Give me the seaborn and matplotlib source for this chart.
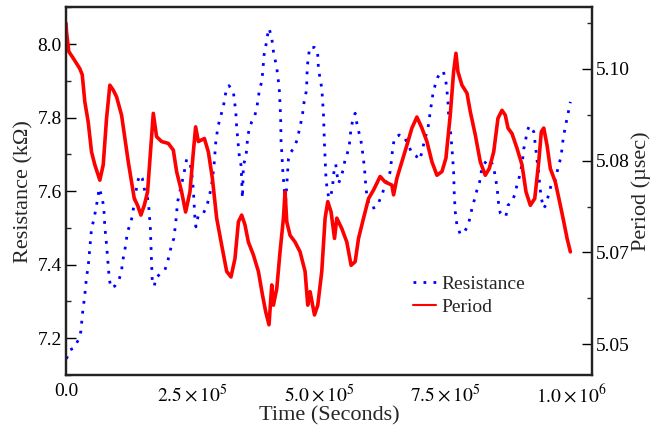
import numpy as np
import pandas as pd
import matplotlib
matplotlib.use('Agg')
import matplotlib.pyplot as plt
import seaborn as sns
from matplotlib.ticker import FixedLocator, MultipleLocator
from matplotlib.lines import Line2D

# Period trace (red), time in units of 1e3 s, period in usec
period_t_ks = [0.0, 1.0, 5.5, 14.3, 27.3, 32.1, 37.2, 43.9, 50.5, 57.0,
               66.9, 73.6, 80.2, 86.7, 93.4, 100.0, 109.9, 116.4, 123.1, 129.7,
               135.0, 141.5, 148.1, 154.8, 161.3, 167.9, 172.6, 179.1, 189.0, 202.3,
               212.2, 218.7, 228.6, 236.5, 245.1, 251.8, 256.3, 261.7, 273.6, 281.5,
               289.4, 297.9, 307.8, 317.7, 326.2, 334.1, 340.9, 347.4, 353.9, 360.6,
               370.5, 380.4, 388.4, 394.9, 401.4, 406.8, 410.1, 416.7, 423.2, 429.9,
               433.1, 436.5, 443.0, 452.9, 462.8, 472.7, 478.0, 482.6, 491.3, 497.8,
               505.7, 512.3, 517.6, 524.1, 530.9, 535.4, 545.3, 555.2, 563.7, 571.7,
               578.4, 588.3, 598.2, 608.1, 621.1, 631.0, 644.3, 647.7, 654.2, 664.1,
               674.0, 683.9, 693.8, 703.7, 713.6, 723.5, 733.4, 743.3, 751.2, 759.7,
               766.4, 771.0, 774.9, 782.9, 792.8, 799.3, 809.2, 819.1, 829.0, 836.9,
               845.6, 854.1, 862.0, 868.6, 873.9, 881.8, 891.7, 901.6, 909.5, 918.1,
               926.8, 934.7, 939.8, 944.6, 951.1, 957.6, 967.5, 977.4, 984.2, 990.7,
               997.2]
period_us = [5.1074, 5.1060, 5.1028, 5.1017, 5.1000, 5.0990, 5.0946, 5.0913, 5.0864, 5.0843,
             5.0818, 5.0843, 5.0919, 5.0973, 5.0965, 5.0954, 5.0924, 5.0886, 5.0848, 5.0815,
             5.0788, 5.0777, 5.0761, 5.0777, 5.0799, 5.0875, 5.0927, 5.0889, 5.0881, 5.0878,
             5.0867, 5.0832, 5.0799, 5.0766, 5.0799, 5.0864, 5.0905, 5.0881, 5.0886, 5.0864,
             5.0821, 5.0756, 5.0712, 5.0669, 5.0660, 5.0690, 5.0750, 5.0761, 5.0745, 5.0717,
             5.0696, 5.0669, 5.0631, 5.0603, 5.0582, 5.0647, 5.0614, 5.0641, 5.0701, 5.0756,
             5.0799, 5.0750, 5.0728, 5.0717, 5.0701, 5.0669, 5.0614, 5.0636, 5.0598, 5.0614,
             5.0669, 5.0756, 5.0783, 5.0766, 5.0723, 5.0756, 5.0739, 5.0717, 5.0679, 5.0685,
             5.0723, 5.0756, 5.0788, 5.0802, 5.0824, 5.0815, 5.0810, 5.0794, 5.0821, 5.0848,
             5.0875, 5.0903, 5.0921, 5.0903, 5.0881, 5.0848, 5.0826, 5.0832, 5.0854, 5.0924,
             5.0995, 5.1025, 5.0995, 5.0973, 5.0960, 5.0930, 5.0892, 5.0848, 5.0826, 5.0837,
             5.0864, 5.0919, 5.0932, 5.0924, 5.0903, 5.0894, 5.0870, 5.0843, 5.0799, 5.0777,
             5.0788, 5.0848, 5.0897, 5.0903, 5.0875, 5.0837, 5.0815, 5.0777, 5.0750, 5.0723,
             5.0701]

# Resistance trace (blue), time in units of 1e3 s, resistance in kOhm
res_t_ks = [1.0, 7.5, 16.2, 24.1, 29.3, 32.7, 35.2, 37.2, 40.6, 43.9,
            47.1, 50.5, 55.0, 60.4, 65.7, 71.7, 74.8, 76.8, 80.2, 83.5,
            85.5, 88.7, 96.6, 105.3, 109.9, 111.8, 116.4, 121.7, 126.3, 131.0,
            136.2, 141.5, 146.1, 150.8, 156.0, 161.3, 163.9, 166.7, 167.9, 169.2,
            170.6, 174.6, 177.8, 185.7, 195.6, 200.9, 208.8, 213.4, 217.3, 220.7,
            227.2, 232.0, 235.2, 238.5, 245.1, 248.4, 251.8, 254.9, 256.9, 261.7,
            271.6, 278.1, 282.7, 286.0, 289.4, 293.3, 295.9, 298.5, 301.3, 306.4,
            311.2, 314.3, 317.7, 322.2, 331.0, 332.9, 335.5, 337.5, 339.5, 340.9,
            342.8, 346.0, 347.4, 348.8, 350.8, 355.9, 359.3, 361.8, 367.2, 372.5,
            377.1, 382.4, 387.0, 389.0, 391.5, 394.9, 397.5, 401.4, 406.8, 408.7,
            411.3, 416.7, 418.6, 421.2, 423.2, 424.6, 425.2, 426.6, 428.5, 433.9,
            439.8, 445.0, 450.9, 457.6, 460.8, 464.8, 468.1, 470.7, 474.7, 476.0,
            476.6, 477.4, 479.4, 482.0, 485.9, 491.3, 497.2, 499.2, 502.4, 505.7,
            507.1, 509.1, 510.3, 511.1, 512.3, 513.7, 514.3, 517.1, 519.0, 522.2,
            526.9, 528.9, 530.9, 533.4, 535.4, 538.8, 543.9, 548.7, 551.9, 555.2,
            559.8, 561.8, 563.7, 566.5, 571.7, 575.0, 579.6, 583.5, 586.3, 588.3,
            590.3, 591.5, 592.9, 594.8, 598.2, 603.3, 609.3, 614.6, 621.1, 625.9,
            629.8, 636.4, 640.9, 642.9, 644.3, 646.3, 649.6, 654.2, 658.7, 664.1,
            669.4, 674.0, 678.5, 682.5, 687.3, 692.4, 697.2, 700.3, 703.7, 709.0,
            715.6, 718.1, 720.9, 723.5, 725.5, 730.0, 735.4, 741.3, 746.2, 751.2,
            755.1, 756.5, 759.7, 763.1, 766.4, 767.6, 769.6, 772.9, 779.5, 786.2,
            794.7, 799.3, 802.6, 808.0, 812.5, 817.9, 821.1, 825.8, 832.3, 838.9,
            845.6, 848.8, 852.1, 854.1, 855.5, 858.7, 863.4, 869.9, 873.9, 880.4,
            887.2, 891.7, 896.3, 900.2, 903.0, 905.0, 908.2, 911.5, 916.1, 921.4,
            924.8, 928.0, 931.3, 934.7, 936.6, 939.8, 944.6, 949.1, 952.5, 956.4,
            961.0, 966.3, 969.5, 974.3, 978.8, 982.2, 984.8, 988.7, 992.1, 994.0,
            997.2]
res_kohm = [7.144, 7.168, 7.174, 7.195, 7.218, 7.268, 7.295, 7.318, 7.367, 7.395,
            7.445, 7.499, 7.522, 7.562, 7.608, 7.581, 7.553, 7.503, 7.454, 7.399,
            7.363, 7.337, 7.342, 7.361, 7.384, 7.408, 7.440, 7.490, 7.508, 7.531,
            7.581, 7.626, 7.644, 7.635, 7.599, 7.581, 7.553, 7.503, 7.454, 7.404,
            7.354, 7.342, 7.365, 7.374, 7.386, 7.408, 7.454, 7.472, 7.520, 7.571,
            7.612, 7.639, 7.662, 7.687, 7.676, 7.653, 7.603, 7.526, 7.503, 7.535,
            7.540, 7.558, 7.582, 7.603, 7.630, 7.680, 7.730, 7.757, 7.780, 7.807,
            7.830, 7.857, 7.880, 7.887, 7.870, 7.846, 7.821, 7.771, 7.744, 7.721,
            7.694, 7.671, 7.630, 7.581, 7.671, 7.694, 7.748, 7.766, 7.789, 7.802,
            7.825, 7.875, 7.898, 7.925, 7.970, 7.993, 8.018, 8.043, 8.018, 7.993,
            7.970, 7.938, 7.911, 7.889, 7.837, 7.789, 7.734, 7.707, 7.658, 7.562,
            7.687, 7.707, 7.718, 7.742, 7.764, 7.789, 7.814, 7.842, 7.869, 7.893,
            7.921, 7.943, 7.966, 7.992, 7.991, 7.991, 7.984, 7.932, 7.907, 7.880,
            7.853, 7.807, 7.753, 7.726, 7.690, 7.653, 7.626, 7.603, 7.585, 7.581,
            7.608, 7.644, 7.662, 7.673, 7.649, 7.621, 7.639, 7.662, 7.687, 7.698,
            7.721, 7.748, 7.773, 7.789, 7.812, 7.785, 7.757, 7.734, 7.707, 7.685,
            7.660, 7.639, 7.612, 7.590, 7.567, 7.553, 7.555, 7.558, 7.579, 7.594,
            7.615, 7.633, 7.653, 7.676, 7.694, 7.721, 7.744, 7.748, 7.753, 7.744,
            7.745, 7.734, 7.721, 7.707, 7.703, 7.696, 7.685, 7.689, 7.707, 7.739,
            7.771, 7.794, 7.825, 7.843, 7.866, 7.889, 7.911, 7.925, 7.925, 7.898,
            7.848, 7.807, 7.771, 7.717, 7.653, 7.594, 7.544, 7.508, 7.483, 7.486,
            7.506, 7.531, 7.553, 7.579, 7.603, 7.626, 7.653, 7.671, 7.685, 7.685,
            7.665, 7.639, 7.612, 7.585, 7.562, 7.540, 7.531, 7.533, 7.562, 7.569,
            7.590, 7.617, 7.639, 7.664, 7.689, 7.715, 7.734, 7.762, 7.778, 7.769,
            7.762, 7.726, 7.685, 7.649, 7.617, 7.581, 7.553, 7.564, 7.582, 7.603,
            7.626, 7.626, 7.644, 7.671, 7.694, 7.734, 7.757, 7.785, 7.807, 7.821,
            7.843]

x_ticks = [0, 2.5e5, 5.0e5, 7.5e5, 1.0e6]
x_tick_labels = ['0.0', r'$2.5\times10^{5}$', r'$5.0\times10^{5}$',
                 r'$7.5\times10^{5}$', r'$1.0\times10^{6}$']
period_ticks = [5.055, 5.07, 5.085, 5.10]
period_minor = [5.0625, 5.0775, 5.0925, 5.1075]

df_p = pd.DataFrame({'time': np.array(period_t_ks) * 1e3, 'period': period_us})
df_r = pd.DataFrame({'time': np.array(res_t_ks) * 1e3, 'res': res_kohm})

sns.set_style('white')
plt.rcParams['font.family'] = ['Liberation Serif', 'DejaVu Serif']
plt.rcParams['mathtext.fontset'] = 'stix'

fig = plt.figure(figsize=(6.58, 4.28), dpi=100)
ax = fig.add_axes([0.1003, 0.1238, 0.7994, 0.859])
ax2 = ax.twinx()

sns.lineplot(data=df_r, x='time', y='res', ax=ax, color='#0000ff', lw=2.0,
             estimator=None, sort=False, legend=False)
ax.lines[0].set_dashes((1, 2.6))
sns.lineplot(data=df_p, x='time', y='period', ax=ax2, color='#ff0000', lw=2.6,
             estimator=None, sort=False, legend=False)

ax.set_xlim(0, 1.04e6)
ax.set_ylim(7.10, 8.10)
ax2.set_ylim(5.05, 5.11)

ax.set_xticks(x_ticks, x_tick_labels)
ax.xaxis.set_minor_locator(MultipleLocator(1.25e5))
ax.yaxis.set_major_locator(MultipleLocator(0.2))
ax.yaxis.set_minor_locator(MultipleLocator(0.1))
ax.yaxis.set_major_formatter(plt.FormatStrFormatter('%.1f'))
ax2.yaxis.set_major_locator(FixedLocator(period_ticks))
ax2.yaxis.set_minor_locator(FixedLocator(period_minor))
ax2.yaxis.set_major_formatter(plt.FormatStrFormatter('%.2f'))

for a in (ax, ax2):
    a.tick_params(which='major', direction='in', length=7, width=1.0,
                  labelsize=14, colors='black')
    a.tick_params(which='minor', direction='in', length=3.5, width=1.0)
    for s in a.spines.values():
        s.set_linewidth(1.6)
        s.set_color('#222222')
ax.tick_params(axis='x', which='both', top=False, pad=6)
ax.tick_params(axis='y', which='both', right=False, pad=3)
ax2.tick_params(axis='y', which='both', left=False, right=True, pad=3)

ax.set_xlabel('Time (Seconds)', fontsize=16, labelpad=0)
ax.set_ylabel('Resistance (kΩ)', fontsize=16, labelpad=3)
ax2.set_ylabel('Period (µsec)', fontsize=16, labelpad=1)

handles = [Line2D([], [], color='#0000ff', lw=2.0, dashes=(1, 2.6)),
           Line2D([], [], color='#ff0000', lw=1.5)]
ax2.legend(handles, ['Resistance', 'Period'], loc='center left',
           bbox_to_anchor=(0.66, 0.216), frameon=False, fontsize=14,
           handlelength=1.15, handletextpad=0.3, labelspacing=0.25,
           borderpad=0, borderaxespad=0)

fig.savefig('out.png', dpi=100)
